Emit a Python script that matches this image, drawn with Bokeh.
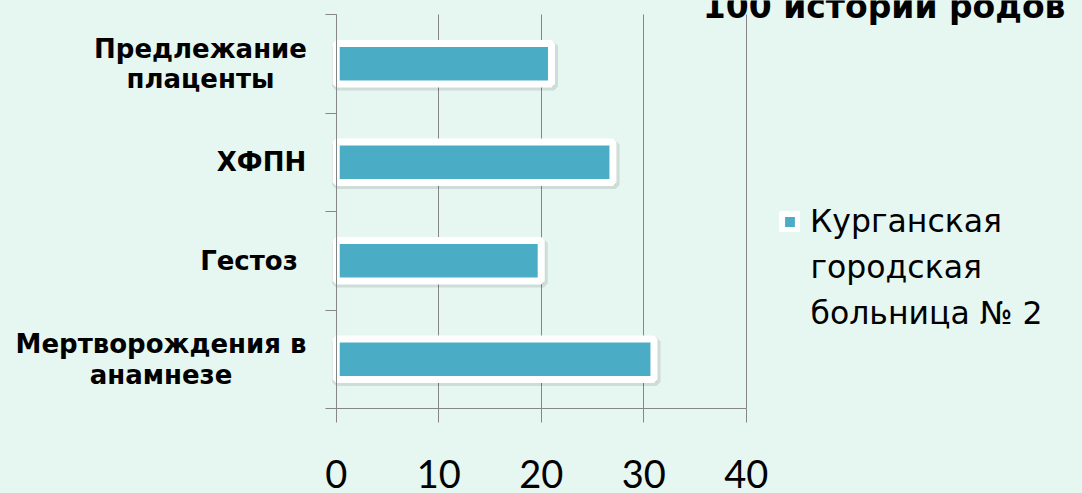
from bokeh.plotting import figure
from bokeh.models import (Range1d, FixedTicker, Legend, LegendItem, Label, LabelSet,
                          ColumnDataSource, GlobalInlineStyleSheet)
from bokeh.transform import dodge
from bokeh.core.properties import value
from bokeh.embed import file_html
from bokeh.resources import INLINE

# ---- data ----
categories = ["Предлежание плаценты", "ХФПН", "Гестоз", "Мертворождения в анамнезе"]
category_labels = ["Предлежание\nплаценты", "ХФПН", "Гестоз", "Мертворождения в\nанамнезе"]
values = [21, 27, 20, 31]
series_name = "Курганская\nгородская\nбольница № 2"
title_text = "100 историй родов"
x_ticks = [0, 10, 20, 30, 40]

# ---- layout / styles ----
W, H = 1082, 493
X0_PX, PX_PER_X = 335.7, 10.25       # where value 0 sits, pixels per unit
Y0_PX, PX_PER_BAND = 408.0, 98.5     # bottom of the category bands, band height
BG = "#e6f6f0"
BAR = "#4bacc6"
GRID = "#868686"
label_center_offsets = [-135.7, -74.7, -87.2, -175.2]   # px from the value axis origin
LABEL_LINE_STEP = 30.5
LEGEND_LINE_STEP = 45.5

n = len(categories)
slot = [n - i - 0.5 for i in range(n)]          # first category on top
band_edges = list(range(n + 1))

src = ColumnDataSource(dict(cat=categories, pos=slot, val=values))

# one row per printed line of the category labels
lab_rows = dict(pos=[], txt=[], dx=[], dy=[])
for pos, lab, off in zip(slot, category_labels, label_center_offsets):
    lines = lab.split("\n")
    k = len(lines)
    for j, ln in enumerate(lines):
        lab_rows["pos"].append(pos)
        lab_rows["txt"].append(ln)
        lab_rows["dx"].append(off)
        lab_rows["dy"].append(((k - 1) / 2 - j) * LABEL_LINE_STEP)
lab_src = ColumnDataSource(lab_rows)

tick_src = ColumnDataSource(dict(x=x_ticks, y=[0] * len(x_ticks),
                                 t=[str(t) for t in x_ticks]))

x_rng = Range1d(-X0_PX / PX_PER_X, (W - X0_PX) / PX_PER_X)
y_rng = Range1d(-(H - Y0_PX) / PX_PER_BAND, Y0_PX / PX_PER_BAND)

p = figure(width=W, height=H, x_range=x_rng, y_range=y_rng,
           x_axis_location="above", y_axis_location="right",
           output_backend="svg", toolbar_location=None, min_border=0,
           background_fill_color=BG, border_fill_color=BG, outline_line_color=None)
p.stylesheets = [GlobalInlineStyleSheet(css="body{background:%s;}" % BG)]

xa = p.xaxis[0]
xa.fixed_location = 0
xa.bounds = (x_ticks[0], x_ticks[-1])
xa.ticker = FixedTicker(ticks=x_ticks)
xa.axis_line_color = GRID
xa.major_tick_line_color = GRID
xa.major_tick_in = 14
xa.major_tick_out = 0
xa.minor_tick_line_color = None
xa.major_label_text_font_size = "0px"
xa.major_label_text_color = None
xa.major_label_standoff = 0

ya = p.yaxis[0]
ya.fixed_location = 0
ya.bounds = (0, n)
ya.ticker = FixedTicker(ticks=band_edges)
ya.axis_line_color = GRID
ya.major_tick_line_color = GRID
ya.major_tick_in = 11
ya.major_tick_out = 0
ya.minor_tick_line_color = None
ya.major_label_text_font_size = "0px"
ya.major_label_text_color = None
ya.major_label_standoff = 0

g = p.xgrid[0]
g.grid_line_color = GRID
if "cross_bounds" in g.properties():
    g.cross_bounds = (0, n)
p.ygrid.visible = False

p.hbar(y=dodge("pos", -0.025), right=dodge("val", 0.25), left=0,
       height=0.41, source=src, fill_color="black", fill_alpha=0.1,
       line_color="black", line_alpha=0.1, line_width=8)
bars = p.hbar(y="pos", right="val", left=0, height=0.41, source=src,
              fill_color=BAR, line_color="white", line_width=7)

tick_labels = LabelSet(x="x", y="y", text="t", source=tick_src, y_offset=-79,
                       text_align="center", text_baseline="alphabetic",
                       text_font=value("Lato"), text_font_size="38px", text_color="black")
p.add_layout(tick_labels)

labels = LabelSet(x=0, y="pos", text="txt", x_offset="dx", y_offset="dy", source=lab_src,
                  text_align="center", text_baseline="middle",
                  text_font=value("DejaVu Sans"), text_font_style="bold",
                  text_font_size="26px", text_color="black")
p.add_layout(labels)

title = Label(x=1065, y=H - 17 + 11, x_units="screen", y_units="screen", text=title_text,
              text_align="right", text_baseline="alphabetic",
              text_font="DejaVu Sans", text_font_style="bold",
              text_font_size="33px", text_color="black")
p.add_layout(title)

series_lines = series_name.split("\n")
legend = Legend(items=[LegendItem(label=series_lines[0], renderers=[bars])],
                location=(779, 254), glyph_width=21, glyph_height=21, label_standoff=10,
                padding=0, margin=0, spacing=0, border_line_color=None,
                background_fill_alpha=0,
                label_text_font="DejaVu Sans", label_text_font_size="31.5px",
                label_text_color="black")
p.add_layout(legend, "center")

for j, ln in enumerate(series_lines[1:], start=1):
    p.add_layout(Label(x=810, y=H - 221 - j * LEGEND_LINE_STEP, x_units="screen",
                       y_units="screen", text=ln, text_align="left",
                       text_baseline="middle", text_font="DejaVu Sans",
                       text_font_size="31.5px", text_color="black"))

open("out.html", "w").write(file_html(p, INLINE))
